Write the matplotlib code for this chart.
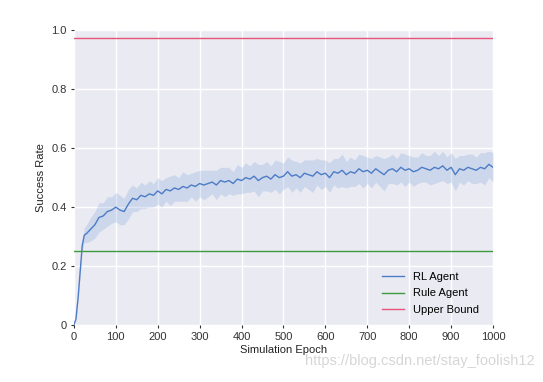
import matplotlib
matplotlib.use('Agg')
import matplotlib.pyplot as plt
import numpy as np

epochs = [0, 5, 10, 15, 20, 25, 30, 40, 50, 60, 70, 80, 90, 100,
          110, 120, 130, 140, 150, 160, 170, 180, 190, 200,
          210, 220, 230, 240, 250, 260, 270, 280, 290, 300,
          310, 320, 330, 340, 350, 360, 370, 380, 390, 400,
          410, 420, 430, 440, 450, 460, 470, 480, 490, 500,
          510, 520, 530, 540, 550, 560, 570, 580, 590, 600,
          610, 620, 630, 640, 650, 660, 670, 680, 690, 700,
          710, 720, 730, 740, 750, 760, 770, 780, 790, 800,
          810, 820, 830, 840, 850, 860, 870, 880, 890, 900,
          910, 920, 930, 940, 950, 960, 970, 980, 990, 1000]

rl_mean = [0.0, 0.02, 0.09, 0.18, 0.27, 0.305, 0.31, 0.325, 0.34, 0.365, 0.37, 0.385, 0.39, 0.40,
           0.39, 0.385, 0.41, 0.43, 0.425, 0.44, 0.435, 0.445, 0.44, 0.455,
           0.445, 0.46, 0.455, 0.465, 0.46, 0.47, 0.465, 0.475, 0.47, 0.48,
           0.475, 0.48, 0.485, 0.475, 0.49, 0.485, 0.49, 0.48, 0.495, 0.49,
           0.50, 0.495, 0.505, 0.49, 0.50, 0.505, 0.495, 0.51, 0.50, 0.505,
           0.52, 0.505, 0.51, 0.50, 0.515, 0.51, 0.505, 0.52, 0.51, 0.515,
           0.50, 0.52, 0.515, 0.525, 0.51, 0.52, 0.515, 0.53, 0.52, 0.525,
           0.515, 0.53, 0.52, 0.51, 0.525, 0.53, 0.52, 0.535, 0.525, 0.53,
           0.52, 0.525, 0.535, 0.53, 0.525, 0.535, 0.53, 0.54, 0.525, 0.535,
           0.51, 0.53, 0.525, 0.535, 0.53, 0.525, 0.535, 0.53, 0.545, 0.535]

rl_spread = [0.0, 0.0, 0.005, 0.01, 0.02, 0.025, 0.03, 0.04, 0.045, 0.05, 0.045, 0.05, 0.045, 0.05,
             0.05, 0.045, 0.05, 0.045, 0.04, 0.045, 0.04, 0.045, 0.04, 0.045,
             0.045, 0.04, 0.05, 0.045, 0.04, 0.05, 0.045, 0.04, 0.05, 0.045,
             0.05, 0.045, 0.04, 0.05, 0.045, 0.05, 0.045, 0.04, 0.05, 0.045,
             0.05, 0.045, 0.05, 0.055, 0.045, 0.05, 0.045, 0.05, 0.055, 0.045,
             0.05, 0.055, 0.045, 0.05, 0.045, 0.05, 0.055, 0.045, 0.05, 0.045,
             0.05, 0.045, 0.05, 0.055, 0.045, 0.05, 0.045, 0.05, 0.055, 0.045,
             0.05, 0.045, 0.05, 0.055, 0.045, 0.05, 0.045, 0.05, 0.055, 0.045,
             0.05, 0.045, 0.05, 0.045, 0.05, 0.055, 0.045, 0.05, 0.045, 0.05,
             0.055, 0.045, 0.05, 0.045, 0.05, 0.045, 0.05, 0.055, 0.045, 0.05]

rule_rate = 0.25
upper_bound = 0.975

plt.rcParams['font.family'] = ['Liberation Sans', 'DejaVu Sans']

fig = plt.figure(figsize=(5.43, 3.82), dpi=100)
ax = fig.add_axes([0.136, 0.149, 0.772, 0.772])
ax.set_facecolor('#EAEAF2')
for s in ax.spines.values():
    s.set_visible(False)
ax.grid(True, color='white', linewidth=1.0)
ax.set_axisbelow(True)

x = np.array(epochs)
m = np.array(rl_mean)
sp = np.array(rl_spread)
ax.fill_between(x, m - sp, m + sp, color='#6A96D8', alpha=0.22, linewidth=0)
ax.plot(x, m, color='#4C7CC6', linewidth=1.0, label='RL Agent')
ax.axhline(rule_rate, color='#3E9A3E', linewidth=1.0, label='Rule Agent')
ax.axhline(upper_bound, color='#E8537A', linewidth=1.0, label='Upper Bound')

ax.set_xlim(0, 1000)
ax.set_ylim(0, 1.0)
ax.set_xticks(range(0, 1001, 100))
ax.set_yticks([0, 0.2, 0.4, 0.6, 0.8, 1.0])
ax.set_yticklabels(['0', '0.2', '0.4', '0.6', '0.8', '1.0'])
ax.tick_params(labelsize=8, colors='#333333', length=2, width=0.8, pad=3)
ax.set_xlabel('Simulation Epoch', fontsize=8, color='#222222', labelpad=2)
ax.set_ylabel('Success Rate', fontsize=8, color='#222222', labelpad=4)

ax.legend(loc='lower right', frameon=False, fontsize=8, handlelength=2.0,
          labelspacing=0.6, bbox_to_anchor=(0.99, 0.0))

fig.text(0.985, 0.055, 'https://blog.csdn.net/stay_foolish12', ha='right', va='center',
         fontsize=10.5, color='#D6D6D6')

fig.savefig('out.png', dpi=100, facecolor='white')
